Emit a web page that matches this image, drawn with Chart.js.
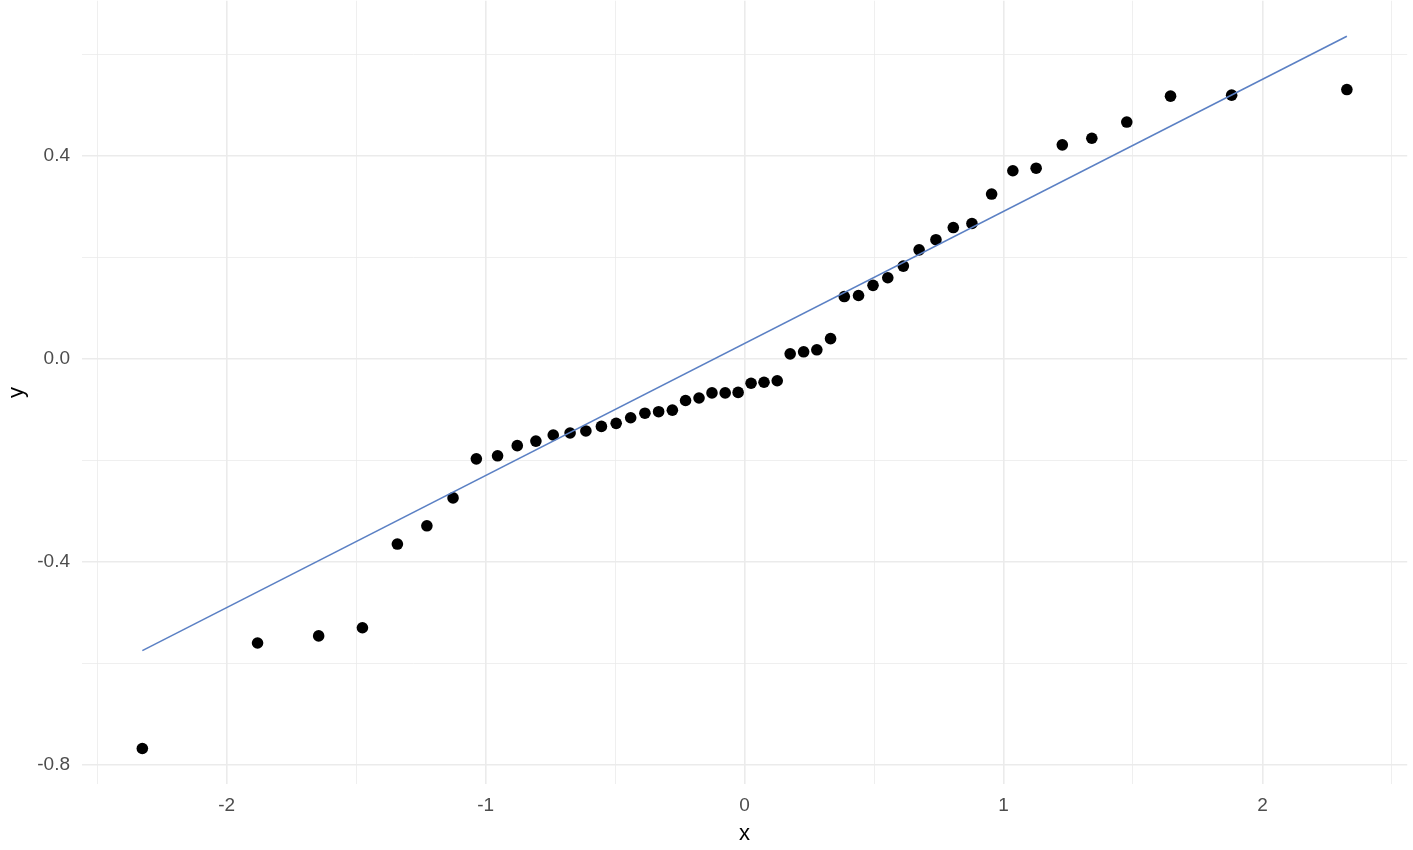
<!DOCTYPE html>
<html>
<head>
<meta charset="utf-8">
<script src="https://cdn.jsdelivr.net/npm/chart.js@4/dist/chart.umd.min.js"></script>
<style>
    html, body { margin: 0; padding: 0; background: #ffffff; overflow: hidden; }
    /* холст чуть выше окна, чтобы верх области графика совпал с краем */
    #plot { display: block; margin-top: -5px; }
</style>
</head>
<body>
<canvas id="plot" width="1413" height="855"></canvas>
<script>
'use strict';

// теоретические квантили (ось x)
const qqX = [
    -2.326, -1.881, -1.645, -1.476, -1.341, -1.227, -1.126, -1.036, -0.954, -0.878,
    -0.806, -0.739, -0.674, -0.613, -0.553, -0.496, -0.440, -0.385, -0.332, -0.279,
    -0.228, -0.176, -0.126, -0.075, -0.025, 0.025, 0.075, 0.126, 0.176, 0.228,
    0.279, 0.332, 0.385, 0.440, 0.496, 0.553, 0.613, 0.674, 0.739, 0.806,
    0.878, 0.954, 1.036, 1.126, 1.227, 1.341, 1.476, 1.645, 1.881, 2.326
];
// выборочные значения (ось y)
const qqY = [
    -0.768, -0.560, -0.546, -0.530, -0.365, -0.329, -0.274, -0.197, -0.191, -0.171,
    -0.162, -0.150, -0.146, -0.142, -0.133, -0.127, -0.116, -0.107, -0.104, -0.101,
    -0.082, -0.077, -0.067, -0.067, -0.066, -0.048, -0.046, -0.043, 0.010, 0.014,
    0.018, 0.040, 0.123, 0.125, 0.145, 0.160, 0.183, 0.215, 0.235, 0.259,
    0.267, 0.325, 0.371, 0.376, 0.422, 0.435, 0.467, 0.518, 0.520, 0.531
];
// опорная линия
const lineX = [-2.326, 2.326];
const lineY = [-0.575, 0.636];

// деления осей
const xMajor = [-2, -1, 0, 1, 2];
const xMinor = [-2.5, -1.5, -0.5, 0.5, 1.5, 2.5];
const yMajor = [-0.8, -0.4, 0, 0.4];
const yMinor = [-0.6, -0.2, 0.2, 0.6];

const tickFont = { family: '"Liberation Sans", Arial, sans-serif', size: 19 };
const titleFont = { family: '"Liberation Sans", Arial, sans-serif', size: 22 };

function isMajor(list, v) {
    return list.some((m) => Math.abs(m - v) < 1e-9);
}

function gridFor(major) {
    return {
        drawTicks: false,
        color: '#EBEBEB',
        lineWidth: (ctx) => (ctx.tick && isMajor(major, ctx.tick.value) ? 1.6 : 0.8),
    };
}

const ctx = document.getElementById('plot').getContext('2d');
const chart = new Chart(ctx, {
    type: 'scatter',
    data: {
        datasets: [
            {
                // линия поверх точек
                type: 'line',
                data: lineX.map((x, i) => ({ x: x, y: lineY[i] })),
                borderColor: '#5B80C4',
                borderWidth: 1.6,
                pointRadius: 0,
                fill: false,
                tension: 0,
            },
            {
                data: qqX.map((x, i) => ({ x: x, y: qqY[i] })),
                backgroundColor: '#000000',
                borderWidth: 0,
                pointRadius: 5.8,
            },
        ],
    },
    options: {
        responsive: false,
        animation: false,
        devicePixelRatio: 1,
        layout: { padding: { top: 0, right: 5, left: 0, bottom: 0 } },
        plugins: {
            legend: { display: false },
            tooltip: { enabled: false },
        },
        scales: {
            x: {
                type: 'linear',
                min: -2.559,
                max: 2.559,
                border: { display: false },
                grid: gridFor(xMajor),
                afterBuildTicks: (scale) => {
                    scale.ticks = xMajor.concat(xMinor)
                        .sort((a, b) => a - b)
                        .map((v) => ({ value: v }));
                },
                afterFit: (scale) => {
                    scale.height = 66;
                    scale.paddingLeft = 0;
                    scale.paddingRight = 0;
                },
                ticks: {
                    autoSkip: false,
                    maxRotation: 0,
                    padding: 10,
                    color: '#4D4D4D',
                    font: tickFont,
                    callback: (v) => (isMajor(xMajor, v) ? String(v) : ''),
                },
                title: {
                    display: true,
                    text: 'x',
                    color: '#000000',
                    font: titleFont,
                    padding: { top: 0, bottom: 3 },
                },
            },
            y: {
                type: 'linear',
                min: -0.838,
                max: 0.706,
                border: { display: false },
                grid: gridFor(yMajor),
                afterBuildTicks: (scale) => {
                    scale.ticks = yMajor.concat(yMinor)
                        .sort((a, b) => a - b)
                        .map((v) => ({ value: v }));
                },
                afterFit: (scale) => {
                    scale.width = 82;
                    scale.paddingTop = 0;
                    scale.paddingBottom = 0;
                },
                ticks: {
                    autoSkip: false,
                    padding: 12,
                    color: '#4D4D4D',
                    font: tickFont,
                    callback: (v) => (isMajor(yMajor, v) ? v.toFixed(1) : ''),
                },
                title: {
                    display: true,
                    text: 'y',
                    color: '#000000',
                    font: titleFont,
                    padding: { top: 4, bottom: 0 },
                },
            },
        },
    },
});
</script>
</body>
</html>
